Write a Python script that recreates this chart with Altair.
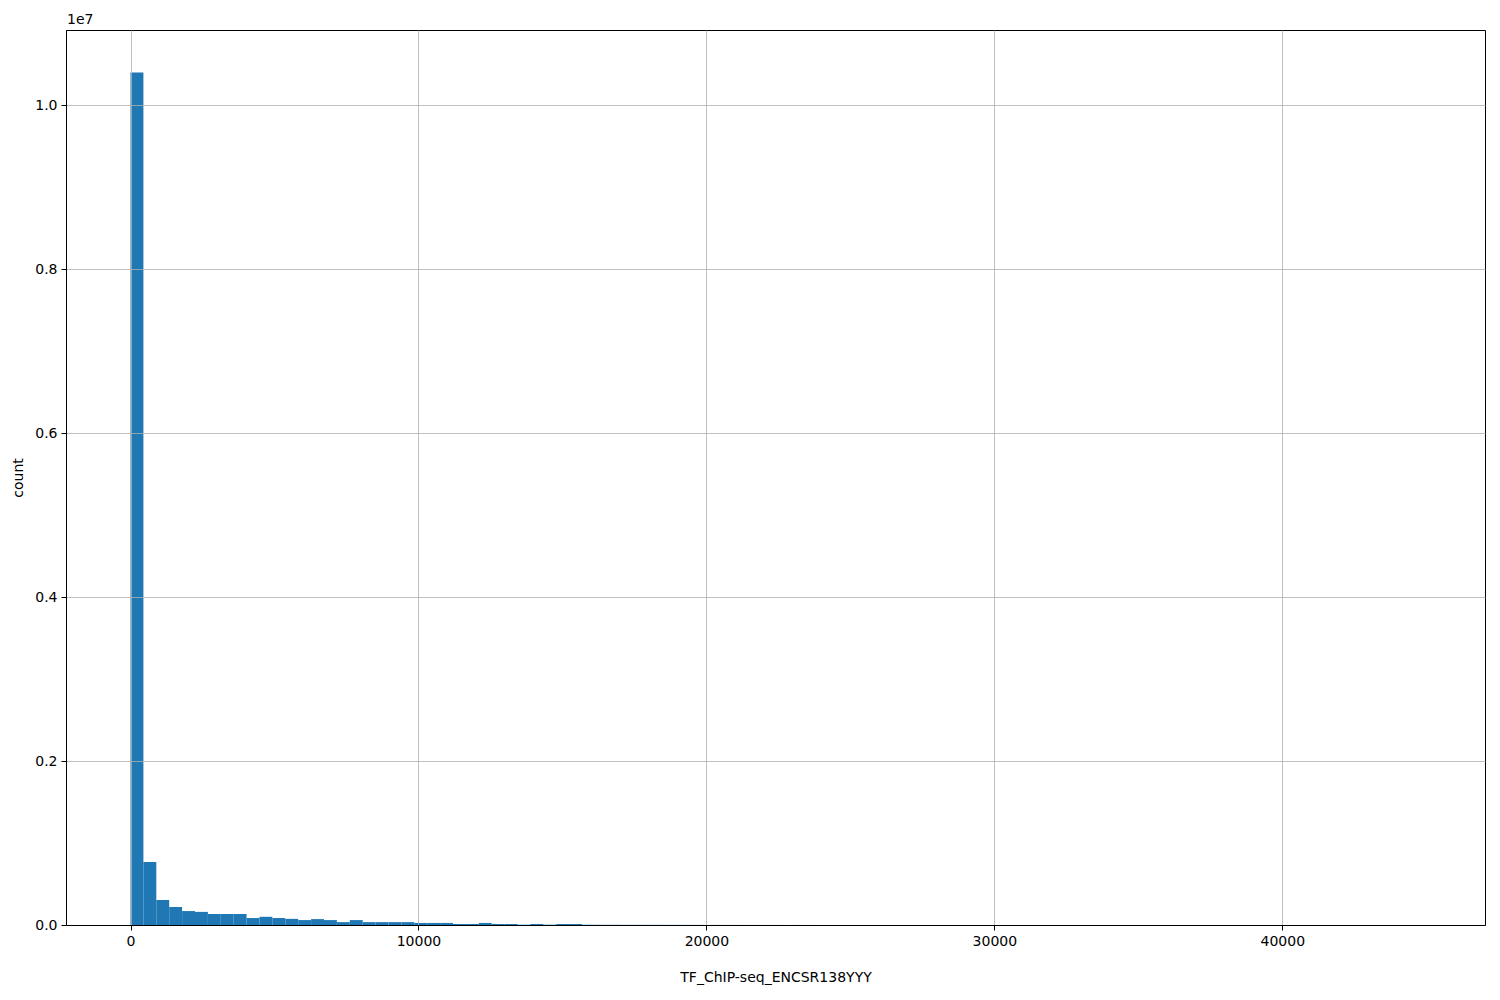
import altair as alt
import pandas as pd
import numpy as np

# Histogram parameters and bin counts
x_min = 0.0
x_max = 44800.0
n_bins = 100
counts = [
    10400000, 769000, 305000, 220000, 170000, 160000, 134000, 134000, 134000, 85000,
    100000, 85000, 75000, 60000, 72000, 60000, 35000, 60000, 35000, 35000,
    35000, 35000, 25000, 25000, 25000, 12000, 12000, 25000, 12000, 12000,
    4000, 12000, 4000, 12000, 12000, 3000, 2500, 2500, 2000, 2000,
    1800, 1500, 1500, 1200, 1000, 1000, 900, 800, 700, 600,
    500, 450, 400, 350, 300, 300, 250, 200, 200, 150,
    150, 120, 100, 100, 80, 80, 60, 60, 50, 50,
    40, 40, 30, 30, 25, 20, 20, 15, 15, 12,
    10, 10, 8, 8, 6, 6, 5, 5, 4, 4,
    3, 3, 2, 2, 2, 1, 1, 1, 1, 1,
]
x_ticks = [0, 10000, 20000, 30000, 40000]
y_ticks = [0, 2000000, 4000000, 6000000, 8000000, 10000000]
x_title = "TF_ChIP-seq_ENCSR138YYY"
y_title = "count"
offset_text = "1e7"

edges = np.linspace(x_min, x_max, n_bins + 1)
df = pd.DataFrame({"start": edges[:-1], "end": edges[1:], "count": counts})

x_scale = alt.Scale(domain=[-2240, 47040], nice=False, zero=False)
y_scale = alt.Scale(domain=[0, 10920000], nice=False)

font = "DejaVu Sans"

bars = alt.Chart(df).mark_rect(color="#1f77b4").encode(
    x=alt.X("start:Q", scale=x_scale,
            axis=alt.Axis(values=x_ticks, title=x_title, format="d",
                          grid=True, zindex=1, labelPadding=4, titlePadding=22)),
    x2="end:Q",
    y=alt.Y("count:Q", scale=y_scale,
            axis=alt.Axis(values=y_ticks, title=y_title, grid=True, zindex=1,
                          labelExpr="format(datum.value / 10000000, '.1f')",
                          labelPadding=4, titlePadding=9)),
    y2=alt.datum(0),
)

offset = alt.Chart(pd.DataFrame({"t": [offset_text]})).mark_text(
    align="left", baseline="middle", font=font, fontSize=14, color="black"
).encode(
    x=alt.value(1), y=alt.value(-10), text="t:N"
)

chart = alt.layer(bars, offset).properties(
    width=1419, height=895,
    autosize=alt.AutoSizeParams(type="none"),
    padding={"left": 58, "top": 22, "right": 5, "bottom": 60},
).configure_view(
    stroke="black", strokeWidth=1
).configure_axis(
    labelFont=font, titleFont=font, labelFontSize=14, titleFontSize=14,
    titleFontWeight="normal", labelColor="black", titleColor="black",
    domainColor="black", domainWidth=1, tickColor="black", tickWidth=1,
    tickSize=5, gridColor="#b0b0b0", gridWidth=0.8, gridOpacity=1,
    labelFlush=False, labelOverlap=False,
)

chart.save("out.html", embed_options={"renderer": "svg", "actions": False})
